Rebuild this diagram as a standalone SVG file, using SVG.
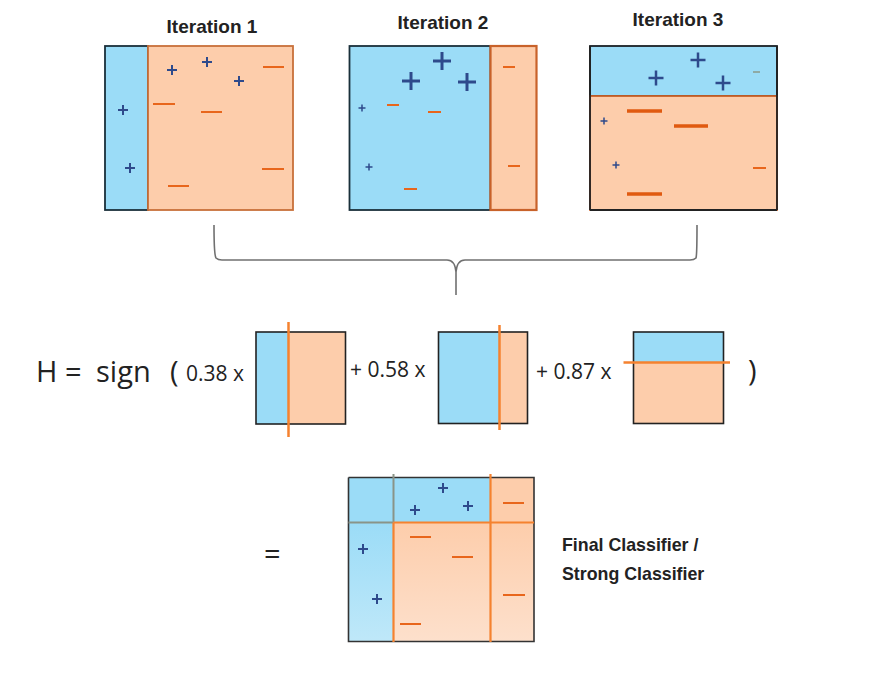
<svg xmlns="http://www.w3.org/2000/svg" xmlns:xlink="http://www.w3.org/1999/xlink" width="887" height="685" viewBox="0 0 887 685">
<style>
.title{font-family:"Liberation Sans",Arial,sans-serif;font-weight:bold;font-size:19px;fill:#222;text-anchor:middle}
.eq{font-family:"Open Sans","Liberation Sans",sans-serif;font-size:29px;fill:#222}
.coef{font-family:"Open Sans","Liberation Sans",sans-serif;font-size:21px;fill:#222}
.lbl{font-family:"Liberation Sans",Arial,sans-serif;font-weight:bold;font-size:17.8px;fill:#222}
.blue{fill:#9bdcf7}
.org{fill:#fdcdab}
.plus{stroke:#2e4a8c;stroke-width:2;fill:none}
.plusb{stroke:#2e4a8c;stroke-width:3;fill:none}
.minus{stroke:#e8661c;stroke-width:2;fill:none}
.minusb{stroke:#e05a10;stroke-width:3.5;fill:none}
.split{stroke:#f5822f;stroke-width:2.5;fill:none}
</style>
<defs>
<path id="p" d="M-5 0H5M0-5V5" class="plus"/>
<path id="ps" d="M-3.5 0H3.5M0-3.5V3.5" class="plus" style="stroke-width:1.5"/>
<path id="pm" d="M-7.5 0H7.5M0-7.5V7.5" class="plusb" style="stroke-width:2.5"/>
<path id="pb" d="M-9 0H9M0-9V9" class="plusb"/>
<linearGradient id="gb" x1="0" y1="0" x2="0" y2="1"><stop offset="0" stop-color="#9bdcf7"/><stop offset="1" stop-color="#bfe8f9"/></linearGradient>
<linearGradient id="go" x1="0" y1="0" x2="0" y2="1"><stop offset="0" stop-color="#fdcdab"/><stop offset="1" stop-color="#fde0cc"/></linearGradient>
</defs>

<g id="iter1">
<text class="title" x="212" y="33">Iteration 1</text>
<rect class="blue" x="105" y="46" width="43" height="164" stroke="#1a2f3a" stroke-width="1.8"/>
<rect class="org" x="148" y="46" width="145" height="164" stroke="#c8703a" stroke-width="1.8"/>
<use xlink:href="#p" x="172" y="70"/>
<use xlink:href="#p" x="207" y="62"/>
<use xlink:href="#p" x="239" y="81"/>
<use xlink:href="#p" x="123" y="110"/>
<use xlink:href="#p" x="130" y="168"/>
<path class="minus" d="M263 67H284M153 104H175M201 112H222M262 169H284M168 186H189"/>
</g>

<g id="iter2">
<text class="title" x="443" y="29">Iteration 2</text>
<rect class="blue" x="349.5" y="46" width="141" height="164" stroke="#1a2f3a" stroke-width="1.8"/>
<rect class="org" x="490.5" y="46" width="46" height="164" stroke="#c8622a" stroke-width="2.2"/>
<use xlink:href="#pb" x="442" y="61"/>
<use xlink:href="#pb" x="411" y="81"/>
<use xlink:href="#pb" x="467" y="82"/>
<use xlink:href="#ps" x="362" y="108"/>
<use xlink:href="#ps" x="369" y="167"/>
<path class="minus" d="M387 105H399M428 112H441M404 189H417M503 67H515M508 166H520"/>
</g>

<g id="iter3">
<text class="title" x="678" y="26">Iteration 3</text>
<rect class="blue" x="590" y="46" width="187" height="50" stroke="#1a2025" stroke-width="1.8"/>
<rect class="org" x="590" y="96" width="187" height="114" stroke="#c8622a" stroke-width="1.8"/>
<path d="M590 210H777M777 46V210M590 46V210" stroke="#222" stroke-width="1.8" fill="none"/>
<use xlink:href="#pm" x="698" y="60"/>
<use xlink:href="#pm" x="656" y="78"/>
<use xlink:href="#pm" x="723" y="83"/>
<use xlink:href="#ps" x="604" y="121"/>
<use xlink:href="#ps" x="616" y="165"/>
<path d="M753 72H760" stroke="#8a9a8a" stroke-width="1.5"/>
<path class="minusb" d="M627 111H662M674 126H708M627 194H662"/>
<path class="minus" d="M753 168H766"/>
</g>

<g id="connectors">
<path d="M214 225C214 240 214 255 216 258Q218 260 222 260H447Q455 260 456 272V295M456 272Q457 260 465 260H690Q694 260 696 258C697 255 697 240 697 225" fill="none" stroke="#707070" stroke-width="1.6"/>
</g>

<g id="formula">
<text class="eq" x="36" y="382">H</text>
<text class="eq" x="65" y="382">=</text>
<text class="eq" x="96" y="382">sign</text>
<text class="eq" x="170" y="382">(</text>
<text class="coef" x="186" y="381">0.38 x</text>
<rect class="blue" x="256" y="332" width="32.5" height="92"/>
<rect class="org" x="288.5" y="332" width="57" height="92"/>
<rect x="256" y="332" width="89.5" height="92" fill="none" stroke="#222" stroke-width="1.6"/>
<path class="split" d="M288.5 322V437"/>
<text class="coef" x="350" y="377">+ 0.58 x</text>
<rect class="blue" x="438.5" y="332" width="61" height="91.5"/>
<rect class="org" x="499.5" y="332" width="28" height="91.5"/>
<rect x="438.5" y="332" width="89" height="91.5" fill="none" stroke="#222" stroke-width="1.6"/>
<path class="split" d="M499.5 325V430"/>
<text class="coef" x="536" y="379">+ 0.87 x</text>
<rect class="blue" x="633.5" y="332" width="90" height="30.5"/>
<rect class="org" x="633.5" y="362.5" width="90" height="61"/>
<rect x="633.5" y="332" width="90" height="91.5" fill="none" stroke="#222" stroke-width="1.6"/>
<path class="split" d="M623.5 362.5H730"/>
<text class="eq" x="748" y="381">)</text>
</g>

<g id="final">
<text class="eq" x="264" y="564">=</text>
<rect x="348.5" y="477.5" width="142" height="45" fill="#9bdcf7"/>
<rect x="348.5" y="522.5" width="45" height="119" fill="url(#gb)"/>
<rect x="393.5" y="522.5" width="140.5" height="119" fill="url(#go)"/>
<rect x="490.5" y="477.5" width="43.5" height="45" fill="#fdcdab"/>
<path d="M348.5 477.5H534V522.5M348.5 477.5V641.5H534V522.5" fill="none" stroke="#333" stroke-width="1.6"/>
<path d="M393.5 474V522.5M348.5 522.5H393.5" stroke="#8a9488" stroke-width="2" fill="none"/>
<path class="split" d="M393.5 522.5V642M393.5 522.5H534M490.5 474V642" style="stroke-width:2.2"/>
<use xlink:href="#p" x="443" y="488"/>
<use xlink:href="#p" x="415" y="510"/>
<use xlink:href="#p" x="468" y="506"/>
<use xlink:href="#p" x="363" y="549"/>
<use xlink:href="#p" x="377" y="599"/>
<path class="minus" d="M503 503H524M410 537H431M452 557H473M503 595H525M400 624H421"/>
<text class="lbl" x="562" y="551">Final Classifier /</text>
<text class="lbl" x="562" y="580">Strong Classifier</text>
</g>
</svg>
